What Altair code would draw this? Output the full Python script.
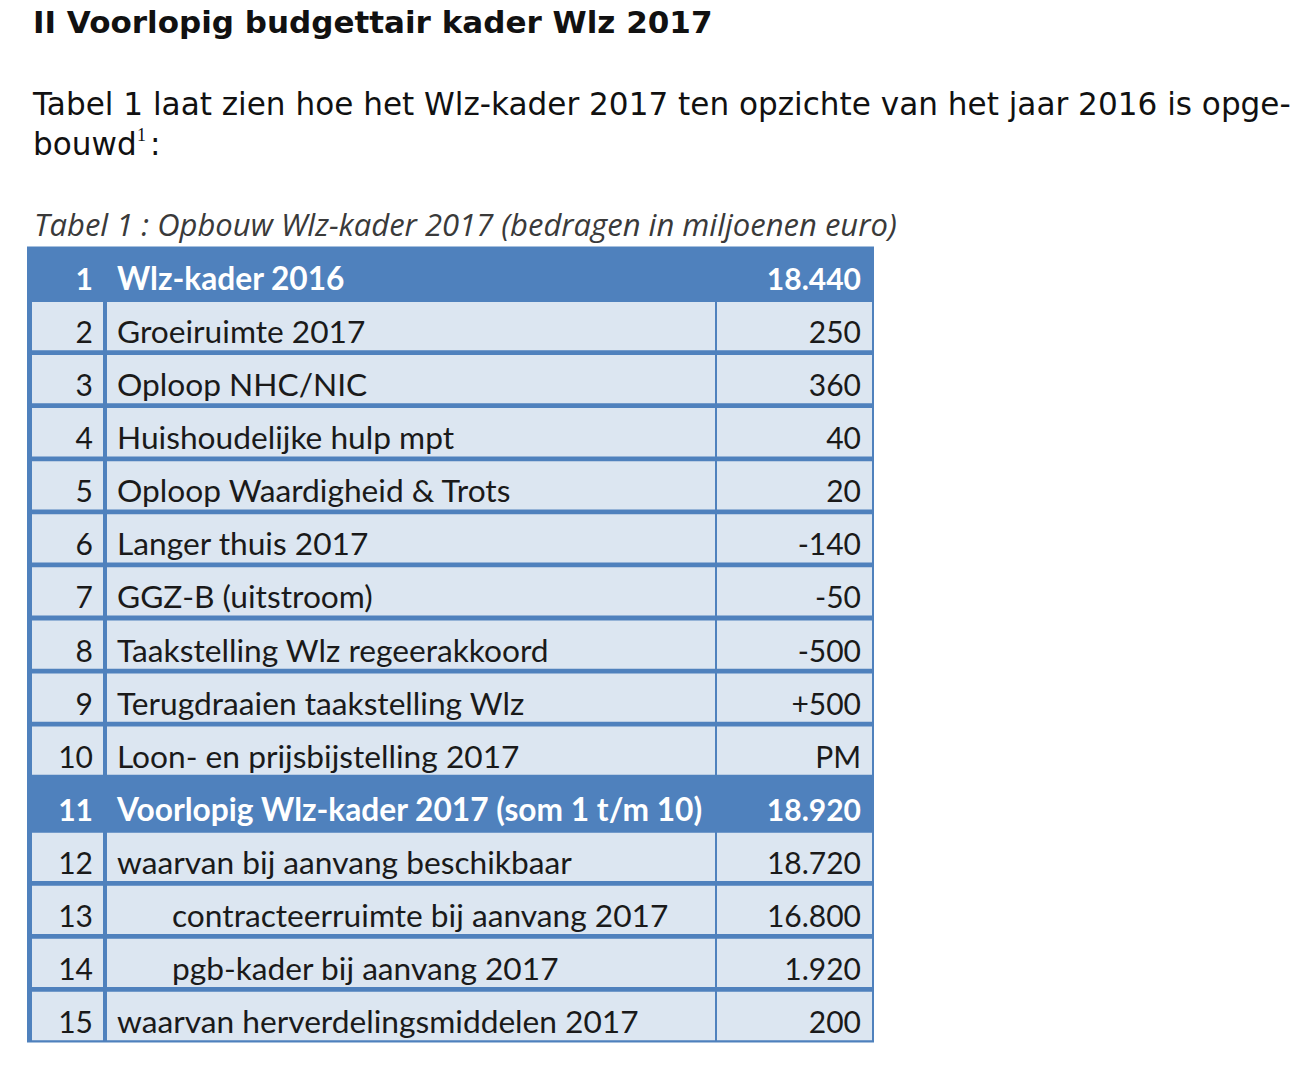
import altair as alt
import pandas as pd

# ---------------- data ----------------
row_numbers = list(range(1, 16))
row_labels = [
    "Wlz-kader 2016",
    "Groeiruimte 2017",
    "Oploop NHC/NIC",
    "Huishoudelijke hulp mpt",
    "Oploop Waardigheid & Trots",
    "Langer thuis 2017",
    "GGZ-B (uitstroom)",
    "Taakstelling Wlz regeerakkoord",
    "Terugdraaien taakstelling Wlz",
    "Loon- en prijsbijstelling 2017",
    "Voorlopig Wlz-kader 2017 (som 1 t/m 10)",
    "waarvan bij aanvang beschikbaar",
    "contracteerruimte bij aanvang 2017",
    "pgb-kader bij aanvang 2017",
    "waarvan herverdelingsmiddelen 2017",
]
row_amounts = ["18.440", "250", "360", "40", "20", "-140", "-50", "-500",
               "+500", "PM", "18.920", "18.720", "16.800", "1.920", "200"]
header_rows = [1, 11]
indented_rows = [13, 14]

heading = "II Voorlopig budgettair kader Wlz 2017"
intro_line1 = "Tabel 1 laat zien hoe het Wlz-kader 2017 ten opzichte van het jaar 2016 is opge-"
intro_line2 = "bouwd"
footnote_mark = "1"
intro_end = ":"
caption = "Tabel 1 : Opbouw Wlz-kader 2017 (bedragen in miljoenen euro)"

# ---------------- layout ----------------
PAD_TOP = 12
W, H = 1283, 1051 - PAD_TOP
ROW_PX = 53.07
TABLE_TOP = 238.5 - PAD_TOP
Y_DOMAIN = [-TABLE_TOP / ROW_PX, (H - TABLE_TOP) / ROW_PX]
BLUE = "#4f81bd"
LIGHT = "#dce6f1"
COL_LEFT = [24, 99, 709]
COL_RIGHT = [95, 707, 864]
TABLE_LEFT, TABLE_RIGHT = 19, 866
NUM_X, LABEL_X, INDENT_X, AMOUNT_X = 85, 109, 164, 853
GAP = 0.045
BASE = 0.82
TABLE_FONT = "Lato"
LABEL_SIZE = 31.7
NUMBER_SIZE = 30

xs = alt.Scale(domain=[0, W], nice=False, zero=False)
ys = alt.Scale(domain=Y_DOMAIN, reverse=True, nice=False, zero=False)

rows = pd.DataFrame({
    "nr": [str(n) for n in row_numbers],
    "row": row_numbers,
    "label": row_labels,
    "amount": row_amounts,
})
rows["header"] = rows["row"].isin(header_rows)
rows["lx"] = [INDENT_X if r in indented_rows else LABEL_X for r in row_numbers]
rows["ty"] = rows["row"] - 1 + BASE
rows["nx"] = NUM_X
rows["ax"] = AMOUNT_X

cells = []
for r in row_numbers:
    if r in header_rows:
        continue
    for x0, x1 in zip(COL_LEFT, COL_RIGHT):
        cells.append({"x0": x0, "x1": x1, "y0": r - 1 + GAP, "y1": r - GAP})
cells = pd.DataFrame(cells)

frame = pd.DataFrame({"x0": [TABLE_LEFT], "x1": [TABLE_RIGHT], "y0": [0], "y1": [len(row_numbers)]})

background = alt.Chart(frame).mark_rect(color=BLUE).encode(
    x=alt.X("x0:Q", scale=xs, axis=None), x2="x1:Q",
    y=alt.Y("y0:Q", scale=ys, axis=None), y2="y1:Q",
)
light = alt.Chart(cells).mark_rect(color=LIGHT).encode(
    x=alt.X("x0:Q", scale=xs, axis=None), x2="x1:Q",
    y=alt.Y("y0:Q", scale=ys, axis=None), y2="y1:Q",
)

def text_layer(field, xfield, align, header, size):
    src = rows[rows["header"] == header]
    return alt.Chart(src).mark_text(
        align=align, baseline="alphabetic", font=TABLE_FONT, fontSize=size,
        fontWeight="bold" if header else "normal",
        color="#ffffff" if header else "#1a1a1a",
    ).encode(
        x=alt.X(f"{xfield}:Q", scale=xs, axis=None),
        y=alt.Y("ty:Q", scale=ys, axis=None),
        text=f"{field}:N",
    )

texts = []
for hdr in (True, False):
    texts.append(text_layer("nr", "nx", "right", hdr, NUMBER_SIZE))
    texts.append(text_layer("label", "lx", "left", hdr, LABEL_SIZE))
    texts.append(text_layer("amount", "ax", "right", hdr, NUMBER_SIZE))

one = pd.DataFrame({"a": [0]})

def note(txt, x, y, font, size, weight="normal", style="normal", color="#111111"):
    return alt.Chart(one).mark_text(
        text=txt, align="left", baseline="alphabetic", font=font, fontSize=size,
        fontWeight=weight, fontStyle=style, color=color,
    ).encode(x=alt.value(x), y=alt.value(y - PAD_TOP))

notes = [
    note(heading, 25, 25, "DejaVu Sans", 31, weight="bold"),
    note(intro_line1, 25, 107, "DejaVu Sans", 31.1),
    note(intro_line2, 25, 147, "DejaVu Sans", 31.1),
    note(footnote_mark, 129, 133, "Liberation Serif", 18),
    note(intro_end, 142, 147, "DejaVu Sans", 31.1),
    note(caption, 26, 228, "Open Sans", 31, style="italic", color="#3a3a3a"),
]

chart = alt.layer(background, light, *texts, *notes).properties(
    width=W, height=H,
    padding={"left": 0, "top": PAD_TOP, "right": 0, "bottom": 0},
    autosize=alt.AutoSizeParams(type="none"),
).configure_view(strokeWidth=0)

chart.save("out.html", embed_options={"renderer": "svg", "actions": False})
